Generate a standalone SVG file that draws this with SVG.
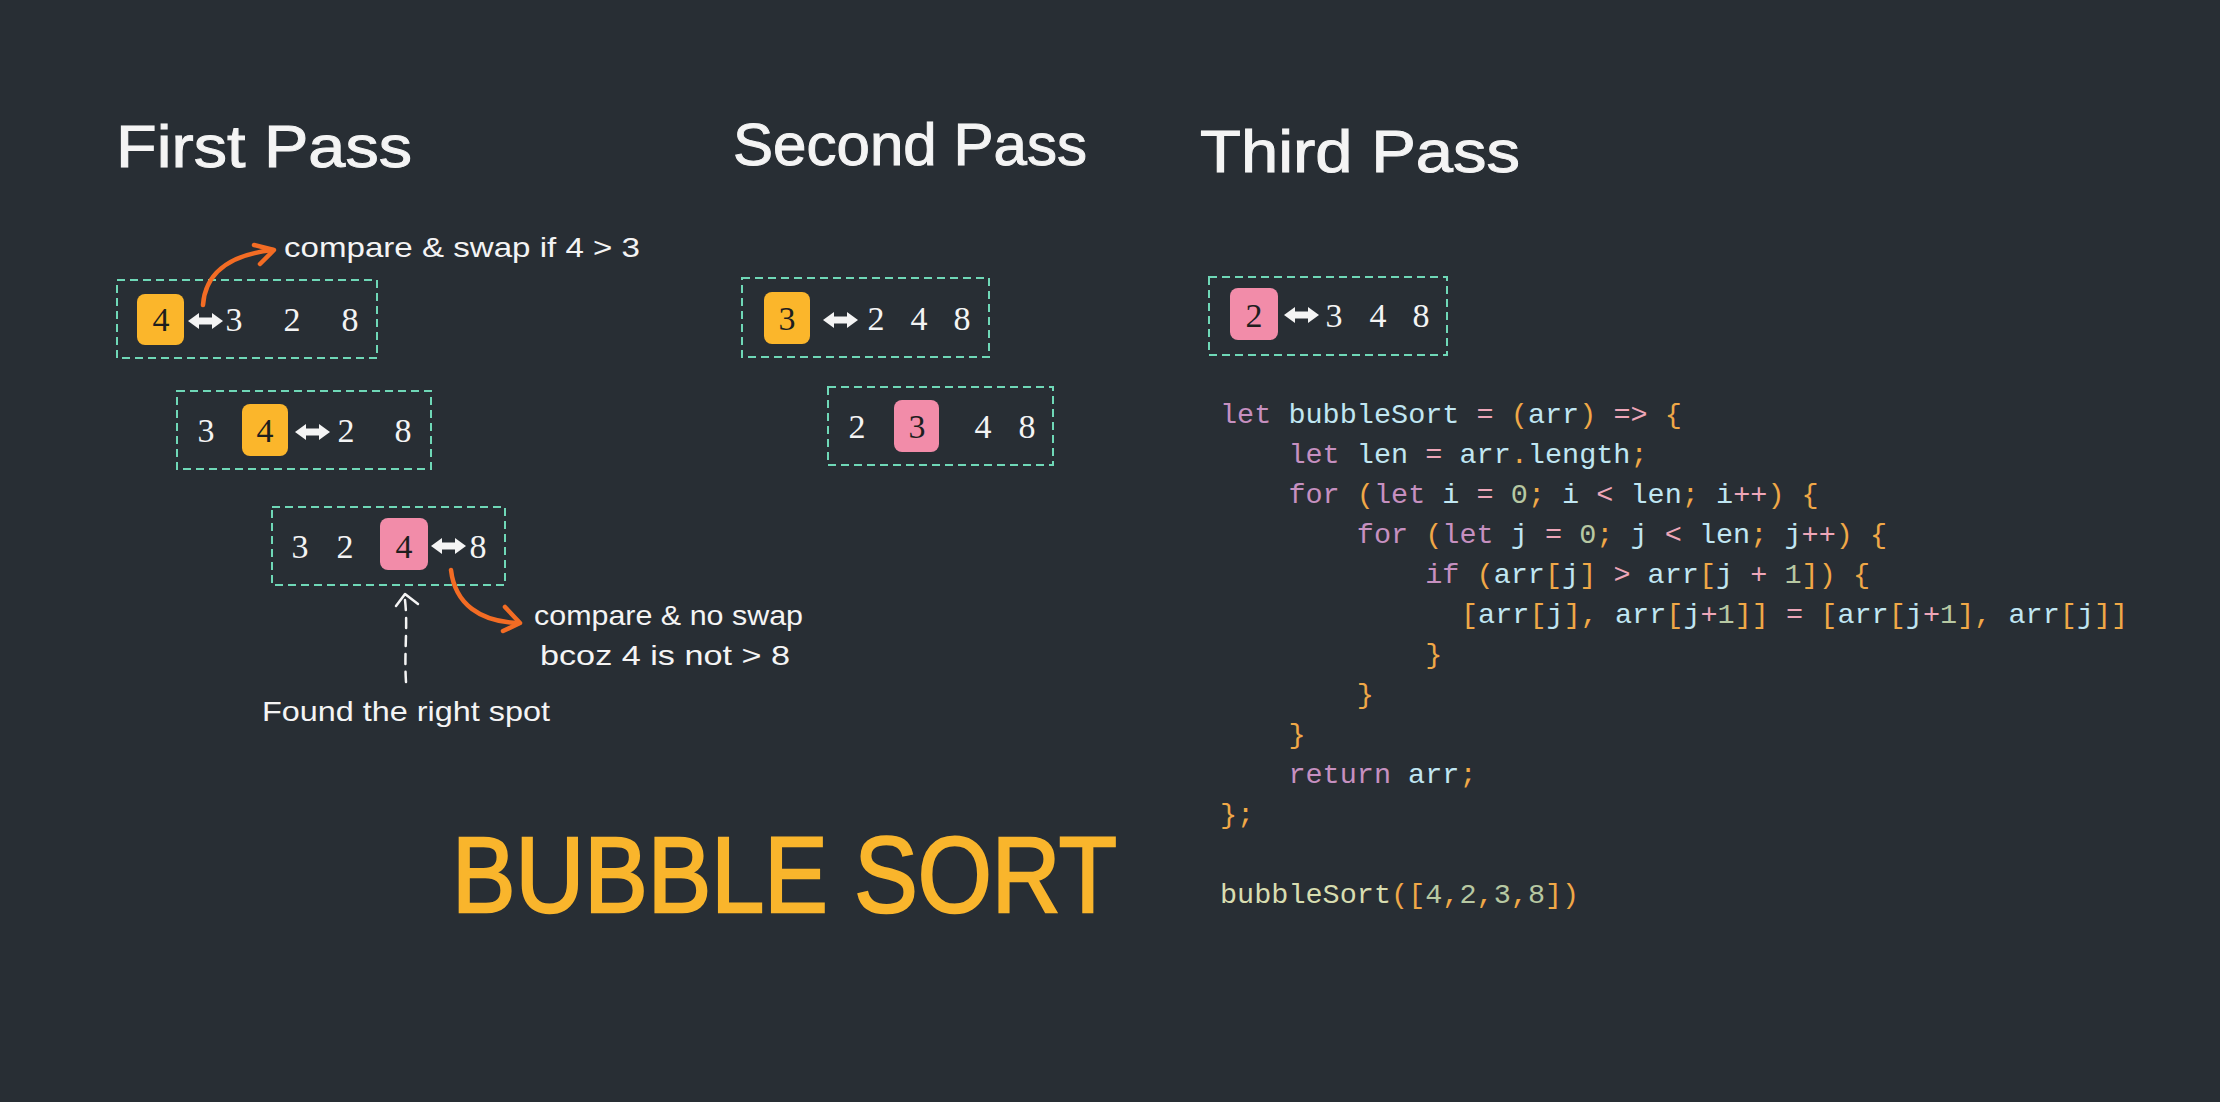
<svg xmlns="http://www.w3.org/2000/svg" width="2220" height="1102" viewBox="0 0 2220 1102">
<style>
.title{font-family:"Liberation Sans","Noto Sans",sans-serif;font-size:60px;fill:#f4f4f4;stroke:#f4f4f4;stroke-width:1}
.note{font-family:"Liberation Sans","Noto Sans",sans-serif;font-size:28px;fill:#f4f4f4}
.box{fill:none;stroke:#6fd8b7;stroke-width:2;stroke-dasharray:8 5}
.yel{fill:#fbb62b}
.pink{fill:#f28ca9}
.dg{font-family:"Liberation Serif","DejaVu Serif",serif;font-size:34px;fill:#f4f4f4;text-anchor:middle}
.dk{fill:#1e1e1e}
.dbl{fill:#f4f4f4}
.code{font-family:"Liberation Mono","DejaVu Sans Mono",monospace;font-size:28.5px;fill:#c0e6f2}
.kw{fill:#c690c0}.op{fill:#eea6b8}.pu{fill:#f0a847}.nu{fill:#b7c8a2}.fn{fill:#d8ddb0}
.big{font-family:"Liberation Sans","Noto Sans",sans-serif;font-size:107px;fill:#f9b52c;stroke:#f9b52c;stroke-width:2.5}
.oarr{fill:none;stroke:#f36c24;stroke-width:4.5;stroke-linecap:round;stroke-linejoin:round}
.warr{fill:none;stroke:#f4f4f4;stroke-width:2.5;stroke-linecap:round;stroke-linejoin:round}
</style>
<defs>
<path id="dbl" d="M0,0 L11,-8 L11,-3.5 L24,-3.5 L24,-8 L35,0 L24,8 L24,3.5 L11,3.5 L11,8 Z"/>
</defs>
<rect width="2220" height="1102" fill="#282e34"/>

<g id="titles">
<text class="title" x="116" y="167" textLength="296" lengthAdjust="spacingAndGlyphs">First Pass</text>
<text class="title" x="733" y="165" textLength="354" lengthAdjust="spacingAndGlyphs">Second Pass</text>
<text class="title" x="1200" y="172" textLength="320" lengthAdjust="spacingAndGlyphs">Third Pass</text>
</g>

<g id="p1r1">
<rect class="box" x="117" y="280" width="260" height="78"/>
<rect class="yel" x="137" y="294" width="47" height="51" rx="8"/>
<text class="dg dk" x="161" y="331">4</text>
<use href="#dbl" class="dbl" x="188" y="321"/>
<text class="dg" x="234" y="331">3</text>
<text class="dg" x="292" y="331">2</text>
<text class="dg" x="350" y="331">8</text>
</g>

<g id="p1r2">
<rect class="box" x="177" y="391" width="254" height="78"/>
<text class="dg" x="206" y="442">3</text>
<rect class="yel" x="242" y="404" width="46" height="52" rx="8"/>
<text class="dg dk" x="265" y="442">4</text>
<use href="#dbl" class="dbl" x="295" y="432"/>
<text class="dg" x="346" y="442">2</text>
<text class="dg" x="403" y="442">8</text>
</g>

<g id="p1r3">
<rect class="box" x="272" y="507" width="233" height="78"/>
<text class="dg" x="300" y="558">3</text>
<text class="dg" x="345" y="558">2</text>
<rect class="pink" x="380" y="518" width="48" height="52" rx="8"/>
<text class="dg dk" x="404" y="558">4</text>
<use href="#dbl" class="dbl" x="431" y="546"/>
<text class="dg" x="478" y="558">8</text>
</g>

<g id="p2r1">
<rect class="box" x="742" y="278" width="247" height="79"/>
<rect class="yel" x="764" y="292" width="46" height="52" rx="8"/>
<text class="dg dk" x="787" y="330">3</text>
<use href="#dbl" class="dbl" x="823" y="320"/>
<text class="dg" x="876" y="330">2</text>
<text class="dg" x="919" y="330">4</text>
<text class="dg" x="962" y="330">8</text>
</g>

<g id="p2r2">
<rect class="box" x="828" y="387" width="225" height="78"/>
<text class="dg" x="857" y="438">2</text>
<rect class="pink" x="894" y="400" width="45" height="52" rx="8"/>
<text class="dg dk" x="917" y="438">3</text>
<text class="dg" x="983" y="438">4</text>
<text class="dg" x="1027" y="438">8</text>
</g>

<g id="p3r1">
<rect class="box" x="1209" y="277" width="238" height="78"/>
<rect class="pink" x="1230" y="288" width="48" height="52" rx="8"/>
<text class="dg dk" x="1254" y="327">2</text>
<use href="#dbl" class="dbl" x="1284" y="315"/>
<text class="dg" x="1334" y="327">3</text>
<text class="dg" x="1378" y="327">4</text>
<text class="dg" x="1421" y="327">8</text>
</g>

<g id="notes">
<text class="note" x="284" y="257" textLength="356" lengthAdjust="spacingAndGlyphs">compare &amp; swap if 4 &gt; 3</text>
<text class="note" x="534" y="625" textLength="269" lengthAdjust="spacingAndGlyphs">compare &amp; no swap</text>
<text class="note" x="540" y="665" textLength="250" lengthAdjust="spacingAndGlyphs">bcoz 4 is not &gt; 8</text>
<text class="note" x="262" y="721" textLength="288" lengthAdjust="spacingAndGlyphs">Found the right spot</text>
</g>

<g id="connectors">
<path class="oarr" d="M203,305 C205,276 226,255 273,250"/>
<path class="oarr" d="M254,245 L274,250 L260,264"/>
<path class="oarr" d="M451,570 C455,604 480,622 519,623"/>
<path class="oarr" d="M505,607 L520,623 L503,631"/>
<path class="warr" d="M406,682 C404,652 408,626 405,600" stroke-dasharray="10 8"/>
<path class="warr" d="M396,606 L405,594 L418,604"/>
</g>

<g id="code" class="code">
<text x="1220" y="423"><tspan class="kw">let</tspan> bubbleSort <tspan class="op">=</tspan> <tspan class="pu">(</tspan>arr<tspan class="pu">)</tspan> <tspan class="op">=&gt;</tspan> <tspan class="pu">{</tspan></text>
<text x="1288.4" y="463"><tspan class="kw">let</tspan> len <tspan class="op">=</tspan> arr<tspan class="pu">.</tspan>length<tspan class="pu">;</tspan></text>
<text x="1288.4" y="503"><tspan class="kw">for</tspan> <tspan class="pu">(</tspan><tspan class="kw">let</tspan> i <tspan class="op">=</tspan> <tspan class="nu">0</tspan><tspan class="pu">;</tspan> i <tspan class="op">&lt;</tspan> len<tspan class="pu">;</tspan> i<tspan class="op">++</tspan><tspan class="pu">)</tspan> <tspan class="pu">{</tspan></text>
<text x="1356.8" y="543"><tspan class="kw">for</tspan> <tspan class="pu">(</tspan><tspan class="kw">let</tspan> j <tspan class="op">=</tspan> <tspan class="nu">0</tspan><tspan class="pu">;</tspan> j <tspan class="op">&lt;</tspan> len<tspan class="pu">;</tspan> j<tspan class="op">++</tspan><tspan class="pu">)</tspan> <tspan class="pu">{</tspan></text>
<text x="1425.2" y="583"><tspan class="kw">if</tspan> <tspan class="pu">(</tspan>arr<tspan class="pu">[</tspan>j<tspan class="pu">]</tspan> <tspan class="op">&gt;</tspan> arr<tspan class="pu">[</tspan>j <tspan class="op">+</tspan> <tspan class="nu">1</tspan><tspan class="pu">])</tspan> <tspan class="pu">{</tspan></text>
<text x="1461" y="623"><tspan class="pu">[</tspan>arr<tspan class="pu">[</tspan>j<tspan class="pu">],</tspan> arr<tspan class="pu">[</tspan>j<tspan class="op">+</tspan><tspan class="nu">1</tspan><tspan class="pu">]]</tspan> <tspan class="op">=</tspan> <tspan class="pu">[</tspan>arr<tspan class="pu">[</tspan>j<tspan class="op">+</tspan><tspan class="nu">1</tspan><tspan class="pu">],</tspan> arr<tspan class="pu">[</tspan>j<tspan class="pu">]]</tspan></text>
<text x="1425.2" y="663" class="pu">}</text>
<text x="1356.8" y="703" class="pu">}</text>
<text x="1288.4" y="743" class="pu">}</text>
<text x="1288.4" y="783"><tspan class="kw">return</tspan> arr<tspan class="pu">;</tspan></text>
<text x="1220" y="823" class="pu">};</text>
<text x="1220" y="903"><tspan class="fn">bubbleSort</tspan><tspan class="pu">([</tspan><tspan class="nu">4</tspan><tspan class="pu">,</tspan><tspan class="nu">2</tspan><tspan class="pu">,</tspan><tspan class="nu">3</tspan><tspan class="pu">,</tspan><tspan class="nu">8</tspan><tspan class="pu">])</tspan></text>
</g>

<g id="heading">
<text class="big" x="452" y="912" textLength="665" lengthAdjust="spacingAndGlyphs">BUBBLE SORT</text>
</g>
</svg>
